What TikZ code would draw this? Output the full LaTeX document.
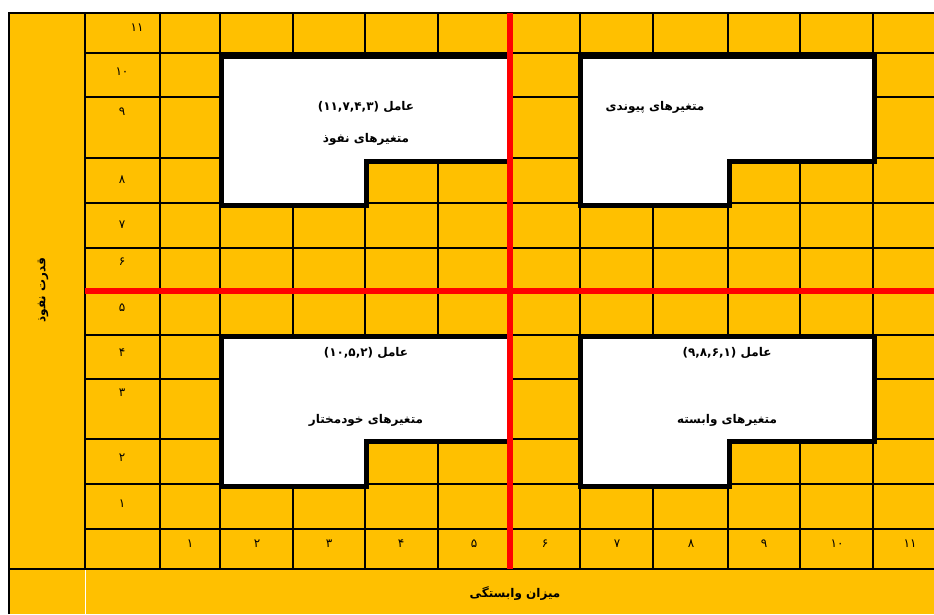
\documentclass[tikz,border=0pt]{standalone}
\usepackage{fontspec}
\TeXXeTstate=1
\newfontfamily\fa[Script=Arabic]{DejaVu Sans}
\definecolor{gold}{RGB}{255,192,0}
\definecolor{redl}{RGB}{255,0,0}
\begin{document}
\begin{tikzpicture}[x=1pt,y=-1pt,
  gridline/.style={line width=1.4pt,black},
  frameline/.style={line width=2pt,black},
  boxline/.style={line width=5pt,black,fill=white,line join=miter},
  redline/.style={line width=6pt,redl},
  num/.style={font=\fa\fontsize{12}{14}\selectfont,inner sep=0pt},
  lbl/.style={font=\fa\bfseries\fontsize{12}{14}\selectfont,inner sep=0pt}]
\useasboundingbox (0,0) rectangle (934,614);
% background
\fill[gold] (9,13) rectangle (934,614);
% vertical grid lines
\foreach \x in {160,220,293,365,438,580,653,728,800,873}
  \draw[gridline] (\x,13) -- (\x,569);
% horizontal grid lines
\foreach \y in {53,97,158,203,248,335,379,439,484,529}
  \draw[gridline] (85,\y) -- (934,\y);
% frame lines
\draw[frameline] (9,614) -- (9,13) -- (934,13);
\draw[frameline] (85,13) -- (85,569);
\draw[frameline] (9,569) -- (934,569);
\draw[white,line width=0.8pt] (85,570) -- (85,614);
% boxes
\draw[boxline] (221,56) -- (510,56) -- (510,161) -- (366,161) -- (366,205) -- (221,205) -- cycle;
\draw[boxline] (580,56) -- (874,56) -- (874,161) -- (729,161) -- (729,205) -- (580,205) -- cycle;
\draw[boxline] (221,336) -- (510,336) -- (510,441) -- (366,441) -- (366,486) -- (221,486) -- cycle;
\draw[boxline] (580,336) -- (874,336) -- (874,441) -- (729,441) -- (729,486) -- (580,486) -- cycle;
% red axes
\draw[redline] (510,13) -- (510,569);
\draw[redline] (85,291) -- (934,291);
% row labels
\foreach \t/\x/\y [count=\i] in {۱۱/137/28,۱۰/122/72,۹/122/112,۸/122/180,۷/122/225,۶/122/262,۵/122/308,۴/122/353,۳/122/393,۲/122/458,۱/122/504}
  \node[num] (r\i) at (\x,\y) {\t};
% column labels
\foreach \t/\x [count=\i] in {۱/190,۲/257,۳/329,۴/401,۵/474,۶/545,۷/617,۸/691,۹/764,۱۰/837,۱۱/910}
  \node[num] (c\i) at (\x,544) {\t};
% box texts
\node[lbl] (a1) at (366,107) {(۱۱,۷,۴,۳) \beginR عامل\endR};
\node[lbl] (a2) at (366,139) {\beginR متغیرهای نفوذ\endR};
\node[lbl] (b1) at (655,107) {\beginR متغیرهای پیوندی\endR};
\node[lbl] (c1t) at (366,353) {(۱۰,۵,۲) \beginR عامل\endR};
\node[lbl] (c2t) at (366,420) {\beginR متغیرهای خودمختار\endR};
\node[lbl] (d1) at (727,353) {(۹,۸,۶,۱) \beginR عامل\endR};
\node[lbl] (d2) at (727,420) {\beginR متغیرهای وابسته\endR};
% axis titles
\node[lbl] (xt) at (515,593) {\beginR میزان وابستگی\endR};
\node[lbl,rotate=90] (yt) at (43,290) {\beginR قدرت نفوذ\endR};
\end{tikzpicture}
\end{document}
